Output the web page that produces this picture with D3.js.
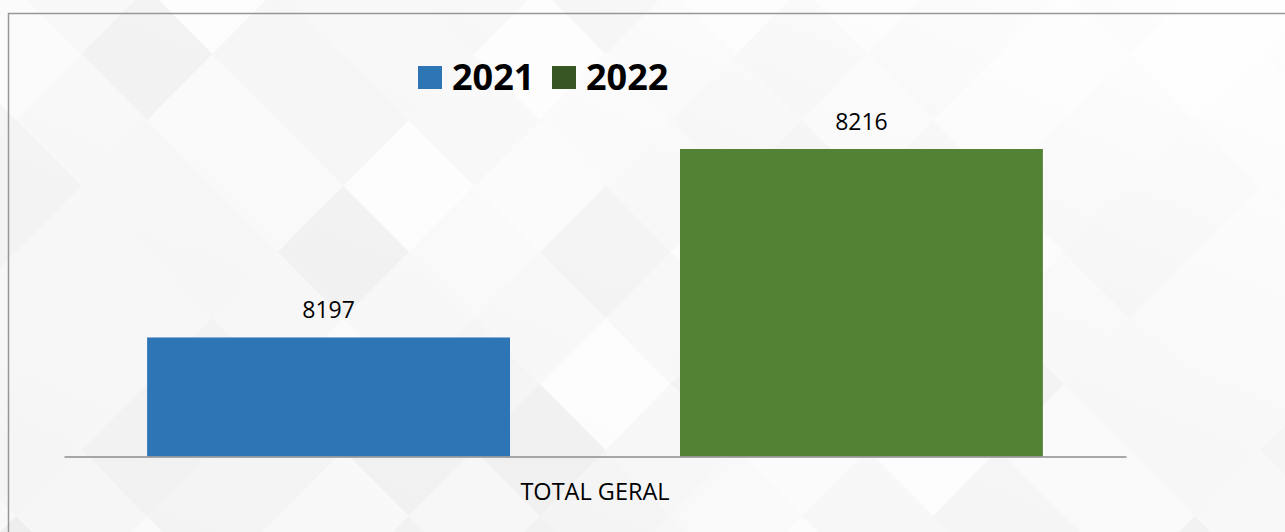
<!DOCTYPE html>
<html>
<head>
<meta charset="utf-8">
<script src="https://cdn.jsdelivr.net/npm/d3@7"></script>
<style>
  html, body { margin: 0; padding: 0; background: #fff; }
  svg { display: block; }
</style>
</head>
<body>
<div id="chart"></div>
<script>
// data
var categories = ["TOTAL GERAL"];
var seriesNames = ["2021", "2022"];
var seriesValues = [8197, 8216];
var barColors = ["#2E75B6", "#548235"];
var legendColors = ["#2E75B6", "#375623"];
var yMin = 8185;

var width = 1285, height = 532;
var margin = { top: 14, right: 159, bottom: 75, left: 64 };
var plotBottom = 456.5;

var svg = d3.select("#chart")
    .append("svg")
    .attr("width", width)
    .attr("height", height);

// background diamonds (decoration)
var shades = ["#f6f6f6", "#f1f1f1", "#fafafa", "#f3f3f4", "#fcfcfc", "#f0f0f1", "#f8f8f8", "#eeeeee", "#f5f5f5"];
var bg = svg.append("g").attr("class", "bg");
bg.append("rect").attr("width", width).attr("height", height).attr("fill", "#f7f7f7");
var dx = 65.5, dy = 66, ox = 16, oy = 54;
for (var i = -2; i < 22; i++) {
    for (var j = -2; j < 10; j++) {
        if (Math.abs(i + j) % 2 !== 0) continue;
        var cx = ox + i * dx, cy = oy + j * dy;
        var h = Math.abs((i * 7 + j * 13 + i * j * 5 + 11) % shades.length);
        bg.append("path")
            .attr("d", `M${cx - dx},${cy}L${cx},${cy - dy}L${cx + dx},${cy}L${cx},${cy + dy}Z`)
            .attr("fill", shades[h]);
    }
}
var grad = svg.append("defs").append("linearGradient")
    .attr("id", "fade")
    .attr("x1", "0%").attr("y1", "100%")
    .attr("x2", "100%").attr("y2", "0%");
grad.append("stop").attr("offset", "0%").attr("stop-color", "#fff").attr("stop-opacity", 0);
grad.append("stop").attr("offset", "60%").attr("stop-color", "#fff").attr("stop-opacity", 0.3);
grad.append("stop").attr("offset", "100%").attr("stop-color", "#fff").attr("stop-opacity", 0.95);
bg.append("rect").attr("width", width).attr("height", height).attr("fill", "url(#fade)");

// frame
svg.append("path")
    .attr("d", `M8.5,${height}V13.5H${width}`)
    .attr("fill", "none")
    .attr("stroke", "#979797")
    .attr("stroke-width", 1.5);

// scales
var x0 = d3.scaleBand()
    .domain(categories)
    .range([margin.left, width - margin.right])
    .padding(0);

var x1 = d3.scaleBand()
    .domain(seriesNames)
    .range([0, x0.bandwidth()])
    .paddingInner(0.319)
    .paddingOuter(0.156);

var y = d3.scaleLinear()
    .domain([yMin, 8216])
    .range([plotBottom, 149]);

var g = svg.append("g");

// bars
g.selectAll(".bar")
    .data(seriesNames.map((s, k) => ({ name: s, value: seriesValues[k], color: barColors[k] })))
    .join("rect")
    .attr("class", "bar")
    .attr("x", d => x0(categories[0]) + x1(d.name))
    .attr("y", d => y(d.value))
    .attr("width", x1.bandwidth())
    .attr("height", d => plotBottom - y(d.value))
    .attr("fill", d => d.color);

// value labels
g.selectAll(".val")
    .data(seriesNames.map((s, k) => ({ name: s, value: seriesValues[k] })))
    .join("text")
    .attr("class", "val")
    .attr("x", d => x0(categories[0]) + x1(d.name) + x1.bandwidth() / 2)
    .attr("y", d => y(d.value) - 19)
    .attr("text-anchor", "middle")
    .style("font-family", "Open Sans")
    .style("font-size", "23px")
    .style("fill", "#000")
    .text(d => d.value);

// x axis
var xAxis = g.append("g")
    .attr("transform", `translate(0,${plotBottom})`)
    .call(d3.axisBottom(x0).tickSize(0).tickPadding(27));
xAxis.select(".domain").attr("stroke", "#8c8c8c").attr("stroke-width", 1.5);
xAxis.selectAll("text")
    .style("font-family", "Open Sans")
    .style("font-size", "23.5px")
    .style("fill", "#000");

// legend
var legend = svg.append("g").attr("transform", "translate(418,0)");
var legendX = [0, 134];
seriesNames.forEach(function(s, k) {
    var lg = legend.append("g").attr("transform", `translate(${legendX[k]},0)`);
    lg.append("rect")
        .attr("x", 0).attr("y", 66)
        .attr("width", 24).attr("height", 23)
        .attr("fill", legendColors[k]);
    lg.append("text")
        .attr("x", 34).attr("y", 90)
        .style("font-family", "Open Sans")
        .style("font-weight", "bold")
        .style("font-size", "36px")
        .style("fill", "#000")
        .text(s);
});
</script>
</body>
</html>
